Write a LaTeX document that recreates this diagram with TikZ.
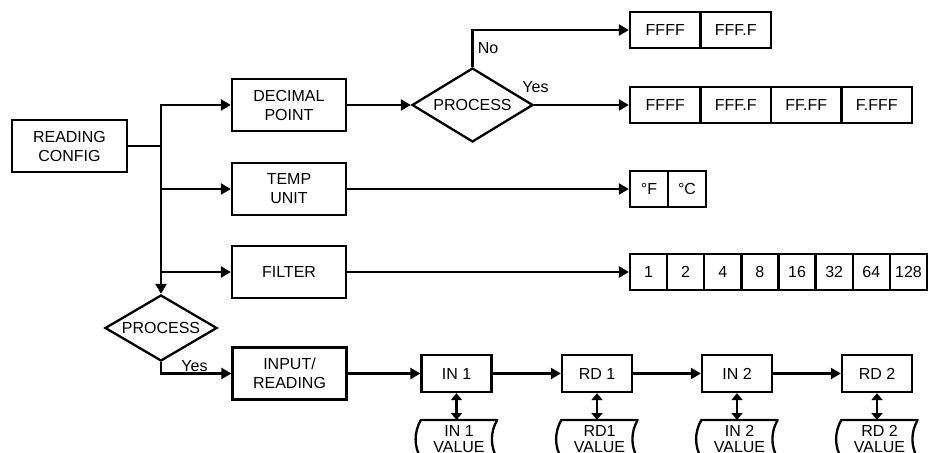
\documentclass[tikz,border=0pt]{standalone}
\usepackage{fontspec}
\setmainfont{Liberation Sans}
\usetikzlibrary{arrows.meta,shapes.geometric,calc}
\newcommand\valborder[1]{\draw[line join=round] (#1.north west) -- (#1.north east) .. controls +(-7,12) and +(-7,-12) .. (#1.south east) -- (#1.south west) .. controls +(-7,-12) and +(-7,12) .. (#1.north west) -- cycle;}
\begin{document}
\begin{tikzpicture}[x=1pt,y=-1pt, line width=2.3pt, font=\fontsize{16}{19}\selectfont,
 box/.style={draw, rectangle, inner sep=0pt, align=center, minimum width=114pt, minimum height=52pt},
 cell/.style={draw, rectangle, inner sep=0pt, minimum height=36pt},
 small/.style={draw, rectangle, inner sep=0pt, minimum width=70pt, minimum height=37pt},
 dec/.style={draw, diamond, inner sep=0pt, aspect=1.7},
 arr/.style={-{Triangle[length=10pt,width=11pt]}},
 darr/.style={{Triangle[length=7pt,width=11pt]}-{Triangle[length=7pt,width=11pt]}},
 val/.style={rectangle, inner sep=0pt, minimum width=74pt, minimum height=36pt, align=center, font=\fontsize{16}{16}\selectfont, anchor=north},
 lbl/.style={inner sep=0pt}]
\useasboundingbox (0,0) rectangle (928,452);
\clip (0,0) rectangle (928,452);

% main boxes
\node[box, minimum width=115pt] (cfg) at (69.5,146) {READING\\CONFIG};
\node[box] (dp) at (289,105) {DECIMAL\\POINT};
\node[box] (tu) at (289,189) {TEMP\\UNIT};
\node[box] (fi) at (289,272) {FILTER};
\node[box] (ir) at (289.5,373.5) {INPUT/\\READING};
\node[dec, minimum width=121pt, minimum height=74pt] (p1) at (472.5,105) {PROCESS};
\node[dec, minimum width=112pt, minimum height=66pt] (p2) at (161,328) {PROCESS};

% option cells
\node[cell, minimum width=70.5pt] (a1) at (665.25,30) {FFFF};
\node[cell, minimum width=70.5pt] (a2) at (735.75,30) {FFF.F};
\node[cell, minimum width=70.5pt] (b1) at (665.25,105) {FFFF};
\node[cell, minimum width=70.5pt] (b2) at (735.75,105) {FFF.F};
\node[cell, minimum width=70.5pt] (b3) at (806.25,105) {FF.FF};
\node[cell, minimum width=70.5pt] (b4) at (876.75,105) {F.FFF};
\node[cell, minimum width=38pt] (c1) at (649,189) {°F};
\node[cell, minimum width=38pt] (c2) at (687,189) {°C};
\foreach \v [count=\i] in {1,2,4,8,16,32,64,128}{
  \node[cell, minimum width=37.125pt] (f\i) at ({630+37.125*(\i-0.5)},272) {\v};
}

% bottom chain
\node[small] (i1) at (456.5,373.5) {IN 1};
\node[small] (r1) at (597,373.5) {RD 1};
\node[small] (i2) at (737,373.5) {IN 2};
\node[small] (r2) at (877,373.5) {RD 2};
\node[val] (i1v) at (459,420) {IN 1\\VALUE};
\node[val] (r1v) at (599.5,420) {RD1\\VALUE};
\node[val] (i2v) at (739.5,420) {IN 2\\VALUE};
\node[val] (r2v) at (879.5,420) {RD 2\\VALUE};
\valborder{i1v}
\valborder{r1v}
\valborder{i2v}
\valborder{r2v}

% labels
\node[lbl] (no) at (488,48) {No};
\node[lbl] (yes1) at (535.5,87) {Yes};
\node[lbl] (yes2) at (194.5,366) {Yes};

% connectors
\draw[line cap=rect] (cfg.east) -- (cfg.east -| p2.north);
\draw[arr, line cap=rect] (p2.north |- dp.west) -- (p2.north);
\draw[arr, line cap=rect] (p2.north |- dp.west) -- (dp.west);
\draw[arr] (p2.north |- tu.west) -- (tu.west);
\draw[arr] (p2.north |- fi.west) -- (fi.west);
\draw[arr] (dp.east) -- (p1.west);
\draw[arr] (p1.north) -- (p1.north |- a1.west) -- (a1.west);
\draw[arr] (p1.east) -- (b1.west);
\draw[arr] (tu.east) -- (c1.west);
\draw[arr] (fi.east) -- (f1.west);
\draw[arr] (p2.south) -- (p2.south |- ir.west) -- (ir.west);
\draw[arr] (ir.east) -- (i1.west);
\draw[arr] (i1.east) -- (r1.west);
\draw[arr] (r1.east) -- (i2.west);
\draw[arr] (i2.east) -- (r2.west);
\draw[darr] (i1.south) -- (i1.south |- i1v.north);
\draw[darr] (r1.south) -- (r1.south |- r1v.north);
\draw[darr] (i2.south) -- (i2.south |- i2v.north);
\draw[darr] (r2.south) -- (r2.south |- r2v.north);
\end{tikzpicture}
\end{document}
